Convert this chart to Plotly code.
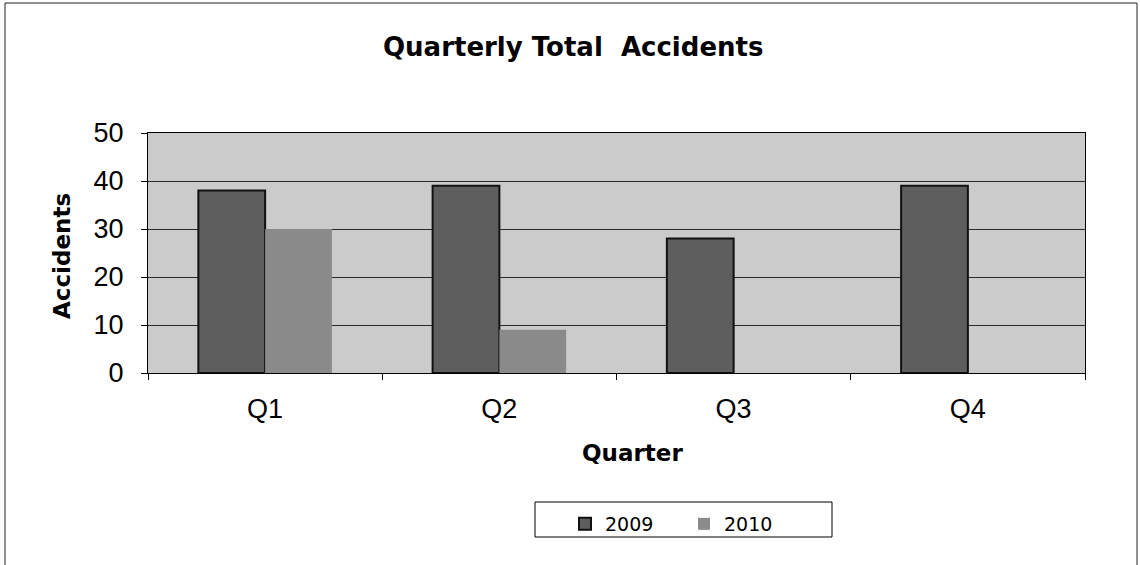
import plotly.graph_objects as go

quarters = ["Q1", "Q2", "Q3", "Q4"]
y2009 = [38, 39, 28, 39]
y2010 = [30, 9, None, None]
y_ticks = [0, 10, 20, 30, 40, 50]

W, H = 1140, 565
L, R, T, B = 148, 55, 133, 192
pw, ph = W - L - R, H - T - B

def px_x(x):
    return (x - L) / pw

def px_y(y):
    return (H - B - y) / ph

sans = "Liberation Sans, Arial, sans-serif"
wide = "DejaVu Sans, Verdana, sans-serif"

fig = go.Figure()
fig.add_trace(go.Bar(x=quarters, y=y2009, name="2009",
                     marker=dict(color="#5e5e5e", line=dict(color="#111111", width=2))))
fig.add_trace(go.Bar(x=quarters, y=y2010, name="2010",
                     marker=dict(color="#8a8a8a", line=dict(color="#8a8a8a", width=0))))

fig.update_layout(
    width=W, height=H,
    margin=dict(l=L, r=R, t=T, b=B, autoexpand=False),
    paper_bgcolor="white",
    plot_bgcolor="#cbcbcb",
    barmode="group",
    bargap=0.43,
    bargroupgap=0,
    font=dict(family=sans, color="black"),
    xaxis=dict(range=[-0.5, 3.5], showline=True, linecolor="black", linewidth=1,
               mirror=True, ticks="outside", tickson="boundaries", ticklen=6,
               tickcolor="black", tickfont=dict(size=27), showgrid=False,
               ticklabelstandoff=12),
    yaxis=dict(range=[0, 50], tickvals=y_ticks, showline=True, linecolor="black",
               linewidth=1, mirror=True, ticks="outside", ticklen=6, tickcolor="black",
               tickfont=dict(size=27), showgrid=True, gridcolor="#2a2a2a", gridwidth=1,
               zeroline=False, ticklabelstandoff=12),
    legend=dict(orientation="h", x=px_x(684), xanchor="center", y=px_y(505), yanchor="top",
                borderwidth=0, bgcolor="rgba(0,0,0,0)",
                font=dict(family=wide, size=19), entrywidth=74, entrywidthmode="pixels",
                itemwidth=30),
    annotations=[
        dict(text="<b>Quarterly Total&nbsp; Accidents</b>", xref="paper", yref="paper",
             x=px_x(573), y=px_y(47), xanchor="center", yanchor="middle",
             showarrow=False, font=dict(family=wide, size=26)),
        dict(text="<b>Quarter</b>", xref="paper", yref="paper",
             x=px_x(632), y=px_y(453), xanchor="center", yanchor="middle",
             showarrow=False, font=dict(family=wide, size=23)),
        dict(text="<b>Accidents</b>", xref="paper", yref="paper",
             x=px_x(62), y=px_y(256), xanchor="center", yanchor="middle",
             textangle=-90, showarrow=False, font=dict(family=wide, size=23)),
    ],
    shapes=[
        dict(type="rect", xref="paper", yref="paper",
             x0=px_x(5), x1=px_x(1137), y0=px_y(568), y1=px_y(3),
             line=dict(color="#222222", width=1), layer="below"),
        dict(type="rect", xref="paper", yref="paper",
             x0=px_x(535), x1=px_x(832), y0=px_y(537), y1=px_y(502),
             line=dict(color="black", width=1), layer="below"),
    ],
)

fig.write_html("out.html", config={"displayModeBar": False},
               post_script="document.body.style.margin='0';")
